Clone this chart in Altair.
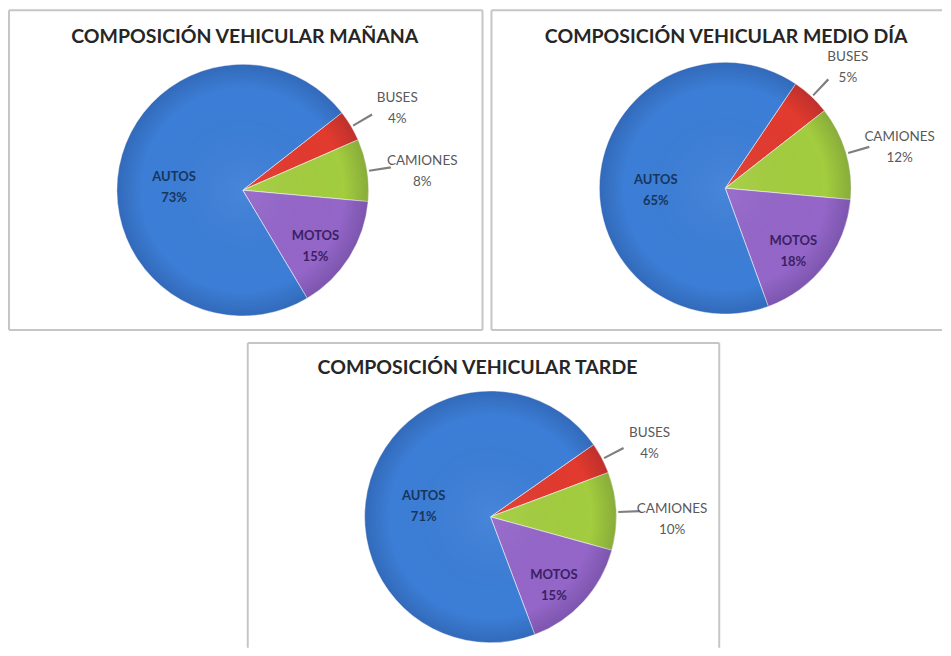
import math
import altair as alt
import pandas as pd

# ---- data ----
categories = ["BUSES", "CAMIONES", "MOTOS", "AUTOS"]
manana = [4, 8, 15, 73]
medio_dia = [5, 12, 18, 65]
tarde = [4, 10, 15, 71]
titles = [
    "COMPOSICIÓN VEHICULAR MAÑANA",
    "COMPOSICIÓN VEHICULAR MEDIO DÍA",
    "COMPOSICIÓN VEHICULAR TARDE",
]

# ---- styles ----
slice_colors = ["#e23a2f", "#a3cd3f", "#9466c9", "#3c7ed7"]
text_colors = {"BUSES": "#595959", "CAMIONES": "#595959", "MOTOS": "#3a2163", "AUTOS": "#17365d"}
label_radius = {"BUSES": 180, "CAMIONES": 182, "MOTOS": 86, "AUTOS": 70}
outside = {"BUSES", "CAMIONES"}
FONT = "Lato"
BORDER = "#c6c6c6"

one = pd.DataFrame({"k": [0]})


def hrule(x1, x2, y):
    return alt.Chart(one).mark_rule(color=BORDER, strokeWidth=2).encode(
        x=alt.value(x1), x2=alt.value(x2), y=alt.value(y))


def vrule(x, y1, y2):
    return alt.Chart(one).mark_rule(color=BORDER, strokeWidth=2).encode(
        x=alt.value(x), y=alt.value(y1), y2=alt.value(y2))


def panel(values, title, start_deg, w, h, cx, cy, tx, ty, frame, r=126):
    df = pd.DataFrame({"cat": categories, "value": values, "ord": list(range(len(values)))})
    s = math.radians(start_deg)
    th = alt.Scale(domain=[0, 100], range=[s, s + 2 * math.pi])
    base = (
        alt.Chart(df)
        .transform_window(cum="sum(value)", sort=[alt.SortField("ord")], frame=[None, 0])
        .transform_calculate(
            start="datum.cum - datum.value",
            mid="datum.cum - datum.value / 2",
            mid2="datum.cum - datum.value / 2 + 0.25",
            label="datum.cat + '\\n' + datum.value + '%'",
        )
    )
    arcs = base.mark_arc(radius=r, stroke="#ffffff", strokeWidth=1, strokeOpacity=0.55).encode(
        theta=alt.Theta("start:Q", scale=th, stack=None),
        theta2="cum:Q",
        color=alt.Color("cat:N", scale=alt.Scale(domain=categories, range=slice_colors), legend=None),
        x=alt.value(cx),
        y=alt.value(cy),
    )
    shade = alt.Chart(one).mark_arc(
        radius=r,
        fill=alt.RadialGradient(
            gradient="radial",
            stops=[
                alt.GradientStop(offset=0, color="rgba(255,255,255,0.06)"),
                alt.GradientStop(offset=0.8, color="rgba(0,0,0,0)"),
                alt.GradientStop(offset=1, color="rgba(0,0,40,0.16)"),
            ],
            x1=0.5, y1=0.5, r1=0, x2=0.5, y2=0.5, r2=0.5,
        ),
    ).encode(theta=alt.value(0), theta2=alt.value(2 * math.pi), x=alt.value(cx), y=alt.value(cy))
    leaders = (
        base.transform_filter(alt.FieldOneOfPredicate(field="cat", oneOf=sorted(outside)))
        .mark_arc(radius=r + 2, radius2=r + 24, color="#7f7f7f")
        .encode(
            theta=alt.Theta("mid:Q", scale=th, stack=None),
            theta2="mid2:Q",
            x=alt.value(cx),
            y=alt.value(cy),
        )
    )
    layers = list(frame) + [arcs, shade, leaders]
    for c in categories:
        is_out = c in outside
        layers.append(
            base.transform_filter(alt.datum.cat == c)
            .mark_text(
                radius=label_radius[c],
                font=FONT,
                fontSize=13.5 if is_out else 13,
                fontWeight="normal" if is_out else "bold",
                lineBreak="\n",
                lineHeight=21,
                color=text_colors[c],
            )
            .encode(
                theta=alt.Theta("mid:Q", scale=th, stack=None),
                text="label:N",
                x=alt.value(cx),
                y=alt.value(cy),
            )
        )
    title_layer = (
        alt.Chart(pd.DataFrame({"t": [title]}))
        .mark_text(font=FONT, fontSize=19.5, fontWeight="bold", color="#262626")
        .encode(text="t:N", x=alt.value(tx), y=alt.value(ty))
    )
    layers.append(title_layer)
    return alt.layer(*layers).properties(width=w, height=h)


# panel A: 476 x 322, full frame
frame_a = [hrule(1, 475, 1), hrule(1, 475, 321), vrule(1, 1, 321), vrule(475, 1, 321)]
A = panel(manana, titles[0], 52, 476, 322, 235, 181, 237, 28, frame_a)

# panel B: runs past the right edge of the page, no right side
frame_b = [hrule(1, 452, 1), hrule(1, 452, 321), vrule(1, 1, 321)]
B = panel(medio_dia, titles[1], 34, 452, 322, 235, 179, 236, 28, frame_b)

# panel C: full width row, frame drawn around the centred box
frame_c = [hrule(240, 712, 1), vrule(240, 1, 306), vrule(712, 1, 306)]
C = panel(tarde, titles[2], 55, 935, 306, 483, 175, 470, 26, frame_c)

top = alt.hconcat(A, B, spacing=7).resolve_scale(theta="independent", color="shared")
chart = (
    alt.vconcat(top, C, spacing=11)
    .resolve_scale(theta="independent", color="shared")
    .properties(padding={"left": 0, "top": 1, "right": 0, "bottom": 0}, background="#ffffff")
    .configure_view(strokeWidth=0, stroke=None)
)

chart.save("out.html", embed_options={"renderer": "svg", "actions": False})
